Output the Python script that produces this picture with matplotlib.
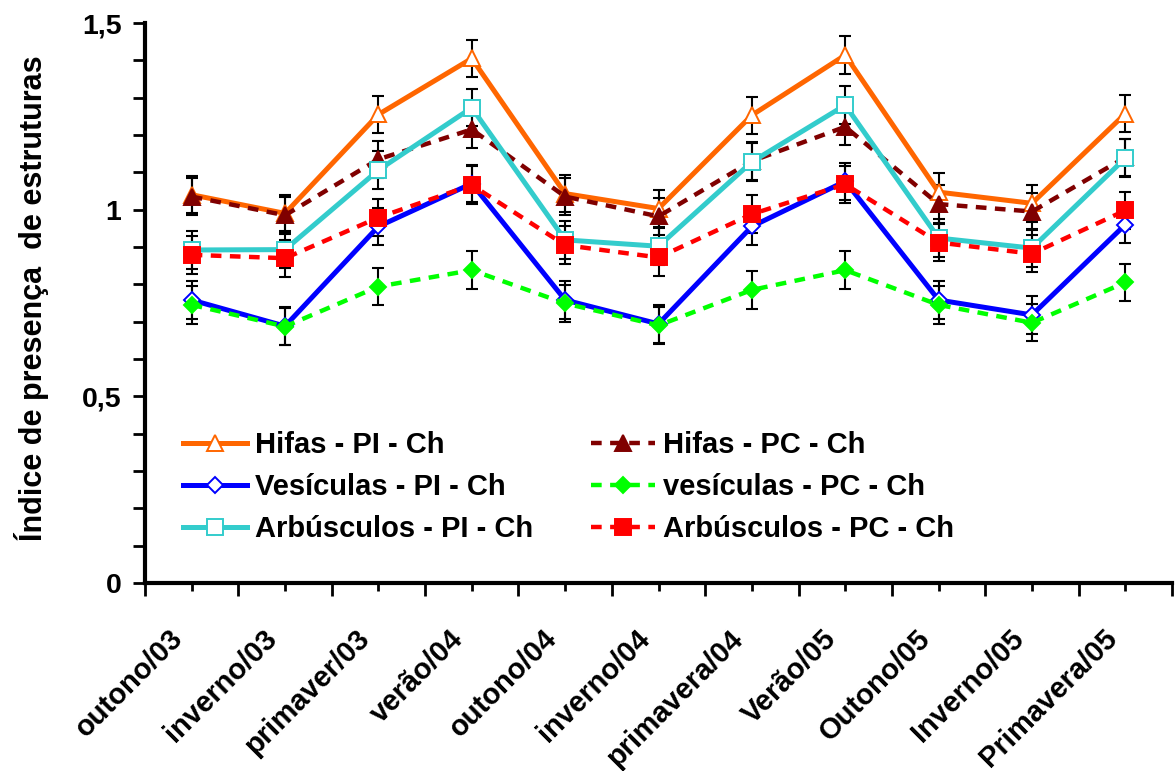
import matplotlib
matplotlib.use("Agg")
import matplotlib.pyplot as plt
import matplotlib.transforms as mtransforms
from matplotlib.ticker import FixedLocator, MultipleLocator, FixedFormatter

plt.rcParams['font.family'] = ['Liberation Sans', 'DejaVu Sans']
plt.rcParams['font.weight'] = 'bold'

# ---------------- data ----------------
categories = ["outono/03", "inverno/03", "primaver/03", "verão/04", "outono/04",
              "inverno/04", "primavera/04", "Verão/05", "Outono/05", "Inverno/05",
              "Primavera/05"]

hifas_pi = [1.040, 0.990, 1.255, 1.405, 1.043, 1.003, 1.253, 1.414, 1.047, 1.017, 1.257]
vesic_pi = [0.758, 0.688, 0.955, 1.070, 0.758, 0.694, 0.955, 1.076, 0.758, 0.718, 0.960]
arbus_pi = [0.892, 0.893, 1.106, 1.273, 0.919, 0.902, 1.128, 1.280, 0.924, 0.897, 1.138]
hifas_pc = [1.035, 0.985, 1.135, 1.215, 1.035, 0.982, 1.130, 1.222, 1.015, 0.995, 1.140]
vesic_pc = [0.745, 0.687, 0.794, 0.838, 0.749, 0.690, 0.785, 0.838, 0.745, 0.697, 0.805]
arbus_pc = [0.879, 0.870, 0.979, 1.066, 0.905, 0.872, 0.988, 1.068, 0.912, 0.882, 0.998]

err_hifas_pi = [0.05, 0.05, 0.05, 0.05, 0.05, 0.05, 0.05, 0.05, 0.05, 0.05, 0.05]
err_vesic_pi = [0.05, 0.05, 0.05, 0.05, 0.05, 0.05, 0.05, 0.05, 0.05, 0.05, 0.05]
err_arbus_pi = [0.05, 0.05, 0.05, 0.05, 0.05, 0.05, 0.05, 0.05, 0.05, 0.05, 0.05]
err_hifas_pc = [0.05, 0.05, 0.05, 0.05, 0.05, 0.05, 0.05, 0.05, 0.05, 0.05, 0.05]
err_vesic_pc = [0.05, 0.05, 0.05, 0.05, 0.05, 0.05, 0.05, 0.05, 0.05, 0.05, 0.05]
err_arbus_pc = [0.05, 0.05, 0.05, 0.05, 0.05, 0.05, 0.05, 0.05, 0.05, 0.05, 0.05]

y_ticks = [0, 0.5, 1, 1.5]
y_ticklabels = ["0", "0,5", "1", "1,5"]
ylabel = "Índice de presença  de estruturas"

# ---------------- figure ----------------
W, H = 1176, 771
fig = plt.figure(figsize=(W / 100, H / 100), dpi=100)
ax = fig.add_axes([145 / W, (H - 583) / H, (1172 - 145) / W, 560 / H])

x = [i + 0.5 for i in range(len(categories))]

dash = (2.4, 1.9)
series = [
    # label, values, err, color, marker, mfc, ms, linestyle, zorder
    ("Hifas - PI - Ch", hifas_pi, err_hifas_pi, "#FF6600", "^", "white", 11, "solid", 3),
    ("Hifas - PC - Ch", hifas_pc, err_hifas_pc, "#800000", "^", "#800000", 11, "dashed", 4),
    ("Arbúsculos - PI - Ch", arbus_pi, err_arbus_pi, "#33CCCC", "s", "white", 11.5, "solid", 5),
    ("Vesículas - PI - Ch", vesic_pi, err_vesic_pi, "#0000FF", "D", "white", 8, "solid", 6),
    ("vesículas - PC - Ch", vesic_pc, err_vesic_pc, "#00FF00", "D", "#00FF00", 8.5, "dashed", 7),
    ("Arbúsculos - PC - Ch", arbus_pc, err_arbus_pc, "#FF0000", "s", "#FF0000", 11.5, "dashed", 8),
]

handles = {}
for label, vals, err, col, mk, mfc, ms, ls, z in series:
    ax.errorbar(x, vals, yerr=err, fmt="none", ecolor="black", elinewidth=1.5,
                capsize=4.5, capthick=1.5, zorder=1)
    if ls == "dashed":
        ln, = ax.plot(x, vals, color=col, lw=3.2, dashes=dash, marker=mk, mfc=mfc,
                      mec=col, ms=ms, mew=1.4, zorder=z, label=label)
    else:
        ln, = ax.plot(x, vals, color=col, lw=3.6, marker=mk, mfc=mfc,
                      mec=col, ms=ms, mew=1.4, zorder=z, label=label)
    handles[label] = ln

ax.set_xlim(0, len(categories))
ax.set_ylim(0, 1.5)

# spines
for s in ["top", "right"]:
    ax.spines[s].set_visible(False)
for s in ["left", "bottom"]:
    ax.spines[s].set_linewidth(3)

# y ticks
ax.yaxis.set_major_locator(FixedLocator(y_ticks))
ax.yaxis.set_major_formatter(FixedFormatter(y_ticklabels))
ax.yaxis.set_minor_locator(MultipleLocator(0.1))
ax.tick_params(axis="y", which="both", direction="out", length=9, width=2, pad=8,
               labelsize=20.5)

# x ticks: labels at category centres, long ticks at boundaries
ax.xaxis.set_major_locator(FixedLocator(x))
ax.set_xticklabels(categories)
ax.xaxis.set_minor_locator(FixedLocator(list(range(len(categories) + 1))))
ax.tick_params(axis="x", which="major", direction="out", length=6, width=2, pad=31,
               labelsize=21)
ax.tick_params(axis="x", which="minor", direction="out", length=9, width=2)
shift = mtransforms.ScaledTranslation(-13 / 100, 0, fig.dpi_scale_trans)
for t in ax.get_xticklabels():
    t.set_rotation(45)
    t.set_ha("right")
    t.set_va("center")
    t.set_rotation_mode("anchor")
    t.set_fontweight("bold")
    t.set_transform(t.get_transform() + shift)
for t in ax.get_yticklabels():
    t.set_fontweight("bold")

ax.set_ylabel(ylabel, fontsize=22, fontweight="bold")
ax.yaxis.set_label_coords(-0.093, 0.508)

# legends (two columns, no frame)
leg_kw = dict(frameon=False, fontsize=21, handlelength=2.2, handletextpad=0.27,
              labelspacing=0.48, borderpad=0, borderaxespad=0, numpoints=1,
              loc="upper left", bbox_transform=fig.transFigure)
col1 = ["Hifas - PI - Ch", "Vesículas - PI - Ch", "Arbúsculos - PI - Ch"]
col2 = ["Hifas - PC - Ch", "vesículas - PC - Ch", "Arbúsculos - PC - Ch"]
leg1 = ax.legend([handles[k] for k in col1], col1,
                 bbox_to_anchor=(183 / W, 1 - 431 / H), **leg_kw)
for t in leg1.get_texts():
    t.set_fontweight("bold")
ax.add_artist(leg1)
leg2 = ax.legend([handles[k] for k in col2], col2,
                 bbox_to_anchor=(591 / W, 1 - 431 / H), **leg_kw)
for t in leg2.get_texts():
    t.set_fontweight("bold")

fig.savefig("out.png", dpi=100)
